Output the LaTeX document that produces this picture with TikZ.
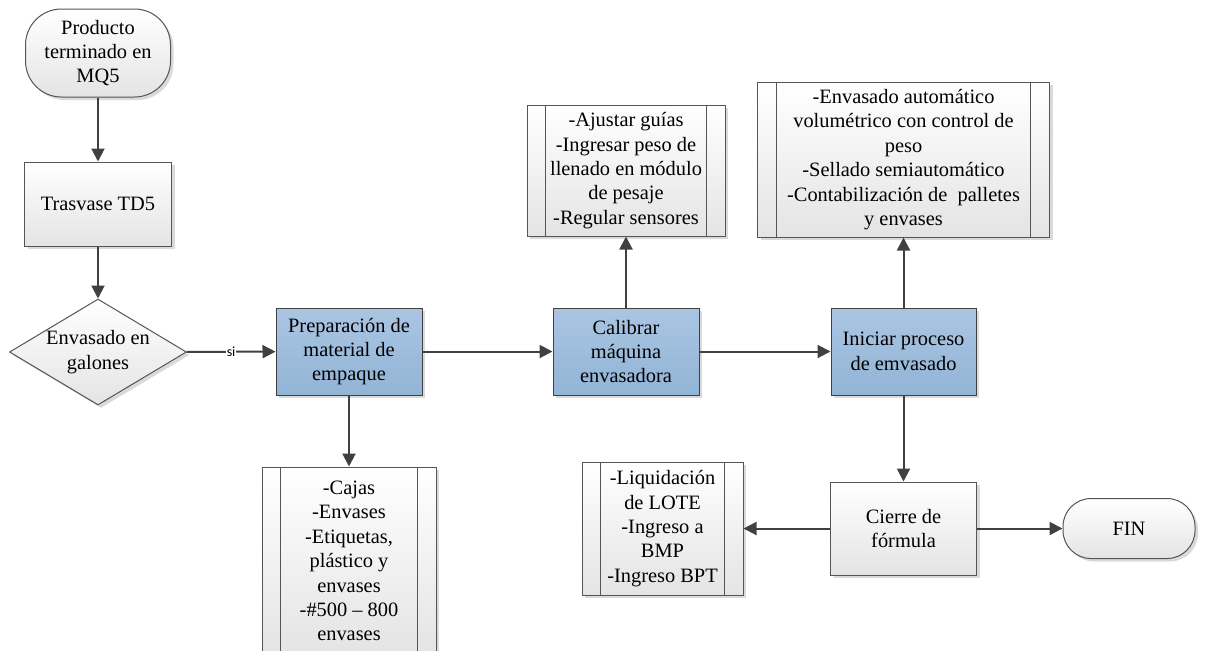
\documentclass[tikz,border=0pt]{standalone}
\usepackage{fontspec}
\setmainfont{Liberation Serif}
\newfontfamily\labelfont{Carlito}
\usetikzlibrary{shapes.geometric,arrows.meta,shadows}
\definecolor{lineagray}{RGB}{64,64,64}
\definecolor{bordegray}{RGB}{85,85,85}
\definecolor{azularriba}{RGB}{170,197,226}
\definecolor{azulabajo}{RGB}{146,180,214}
\definecolor{grisabajo}{RGB}{228,228,228}
\definecolor{sombra}{RGB}{218,218,218}

\begin{document}
\begin{tikzpicture}[x=0.5pt,y=-0.5pt,
  font=\fontsize{10.2}{12.2}\selectfont,
  base/.style={draw=bordegray,line width=0.5pt,align=center,inner sep=0pt,
    drop shadow={shadow xshift=1.5pt,shadow yshift=-1.5pt,fill=sombra,opacity=1}},
  proceso/.style={base,rectangle,top color=white,bottom color=grisabajo},
  azul/.style={base,rectangle,top color=azularriba,bottom color=azulabajo,draw=lineagray},
  terminal/.style={proceso,rounded corners=#1},
  decision/.style={base,diamond,aspect=1.67,top color=white,bottom color=grisabajo},
  subproc/.style={proceso,path picture={
    \draw[bordegray,line width=0.5pt]
      ([xshift=9.3pt]path picture bounding box.north west) -- ([xshift=9.3pt]path picture bounding box.south west)
      ([xshift=-9.3pt]path picture bounding box.north east) -- ([xshift=-9.3pt]path picture bounding box.south east);}},
  flecha/.style={draw=lineagray,line width=1pt,-{Triangle[width=6.5pt,length=6.5pt]}},
  etiqueta/.style={font=\labelfont\fontsize{7}{8}\selectfont,fill=white,inner sep=0.5pt}]
\useasboundingbox (0,0) rectangle (1208,650);

% --- left column ---
\node[terminal=18pt,minimum width=72.5pt,minimum height=44pt] (prod) at (98,53) {Producto\\terminado en\\MQ5};
\node[proceso,minimum width=73.5pt,minimum height=42pt] (tras) at (98,204) {Trasvase TD5};
\node[decision,minimum width=88.5pt,minimum height=53pt] (dec) at (98,352) {Envasado en\\galones};

% --- main row ---
\node[azul,minimum width=73pt,minimum height=43.5pt] (prep) at (349,351.5) {Preparaci\'on de\\material de\\empaque};
\node[azul,minimum width=73pt,minimum height=43.5pt] (calib) at (626,351.5) {Calibrar\\m\'aquina\\envasadora};
\node[azul,minimum width=72.5pt,minimum height=43.5pt] (inic) at (903.5,351.5) {Iniciar proceso\\de emvasado};

% --- subprocesses ---
\node[subproc,minimum width=99pt,minimum height=65.5pt] (ajus) at (626,170.5) {-Ajustar gu\'ias\\-Ingresar peso de\\llenado en m\'odulo\\de pesaje\\-Regular sensores};
\node[subproc,minimum width=146pt,minimum height=77.5pt] (envs) at (903.5,159.5) {-Envasado autom\'atico\\volum\'etrico con control de\\peso\\-Sellado semiautom\'atico\\-Contabilizaci\'on de\ \ palletes\\y envases};
\node[subproc,minimum width=87pt,minimum height=94pt] (cajas) at (349,561) {-Cajas\\-Envases\\-Etiquetas,\\pl\'astico y\\envases\\-\#500 -- 800\\envases};
\node[subproc,minimum width=80.5pt,minimum height=66.5pt] (liq) at (662.5,528.5) {-Liquidaci\'on\\de LOTE\\-Ingreso a\\BMP\\-Ingreso BPT};

% --- closing ---
\node[proceso,minimum width=73pt,minimum height=46.5pt] (cierre) at (903.5,528.5) {Cierre de\\f\'ormula};
\node[terminal=14pt,minimum width=66pt,minimum height=30pt] (fin) at (1129,528.5) {FIN};

% --- connectors ---
\draw[flecha] (prod) -- (tras);
\draw[flecha] (tras) -- (dec);
\draw[flecha] (dec) -- node[etiqueta]{si} (prep);
\draw[flecha] (prep) -- (calib);
\draw[flecha] (calib) -- (inic);
\draw[flecha] (prep) -- (cajas);
\draw[flecha] (calib) -- (ajus);
\draw[flecha] (inic) -- (envs);
\draw[flecha] (inic) -- (cierre);
\draw[flecha] (cierre) -- (liq);
\draw[flecha] (cierre) -- (fin);
\end{tikzpicture}
\end{document}
